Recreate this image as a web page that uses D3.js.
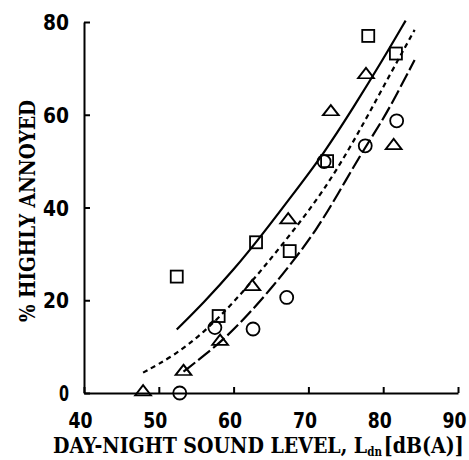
<!DOCTYPE html>
<html>
<head>
<meta charset="utf-8">
<script src="https://cdn.jsdelivr.net/npm/d3@7"></script>
<style>
    body { margin: 0; background: #fff; }
    .axis path, .axis line { stroke: #000; stroke-width: 2px; }
    .axis text { font-family: "DejaVu Sans Condensed", "DejaVu Sans", sans-serif; font-weight: bold; font-size: 21px; fill: #000; }
    .title { font-family: "DejaVu Serif Condensed", "DejaVu Serif", serif; font-weight: bold; font-size: 22px; fill: #000; }
</style>
</head>
<body>
<div id="chart-area"></div>
<script>
// Tick values
var xTicks = [40, 50, 60, 70, 80, 90];
var yTicks = [0, 20, 40, 60, 80];

// Observed points: [Ldn, % highly annoyed]
var squares = [[52.4, 25.1], [58, 16.6], [63, 32.5], [67.5, 30.6], [72.5, 50], [78, 77], [81.7, 73.2]];
var triangles = [[47.9, 0], [53.3, 4.4], [58.2, 10.9], [62.5, 22.7], [67.3, 37.1], [73, 60.4], [77.7, 68.4], [81.4, 53.1]];
var circles = [[52.8, 0], [57.5, 14.1], [62.6, 13.8], [67.1, 20.6], [72.1, 49.9], [77.6, 53.3], [81.8, 58.7]];

// Fitted curves
var curveSolid = [[52.4, 13.7], [56, 19.5], [60, 26.5], [64, 34.5], [68, 43], [72, 51.5], [76, 61.5], [80, 72], [83, 80.3]];
var curveDashed = [[47.9, 4.4], [52, 8], [56, 13], [60, 19.5], [64, 27], [68, 35], [72, 43.5], [76, 54], [80, 66], [84.2, 78.3]];
var curveLong = [[53.3, 4.6], [56, 8], [59, 12], [62, 17], [65, 22.5], [68, 28.5], [71, 35], [74, 43], [77, 51.5], [80, 59], [82, 65], [84.2, 71.8]];

var margin = { left: 84, right: 11, top: 22, bottom: 67 },
    width = 469 - margin.left - margin.right,
    height = 460 - margin.top - margin.bottom;

var svg = d3.select("#chart-area").append("svg")
    .attr("width", 469)
    .attr("height", 460);

var g = svg.append("g")
    .attr("transform", "translate(" + margin.left + ", " + margin.top + ")");

// Scales
var x = d3.scaleLinear().domain([40, 90]).range([0, width]);
var y = d3.scaleLinear().domain([0, 80]).range([height, 0]);

// Axes (ticks point inward)
var xAxis = g.append("g")
    .attr("class", "x axis")
    .attr("transform", "translate(0," + height + ")")
    .call(d3.axisBottom(x).tickValues(xTicks).tickSize(-6).tickSizeOuter(0).tickPadding(20));
xAxis.selectAll("text")
    .attr("dy", "0.71em")
    .attr("dx", -4)
    .attr("textLength", 24)
    .attr("lengthAdjust", "spacingAndGlyphs");

var yAxis = g.append("g")
    .attr("class", "y axis")
    .call(d3.axisLeft(y).tickValues(yTicks).tickSize(-6).tickSizeOuter(0).tickPadding(15));
yAxis.selectAll("text")
    .attr("dy", "0.36em")
    .each(function(d) {
        d3.select(this)
            .attr("textLength", d === 0 ? 10 : 26)
            .attr("lengthAdjust", "spacingAndGlyphs");
    });

// Curves
var line = d3.line()
    .x(function(d) { return x(d[0]); })
    .y(function(d) { return y(d[1]); })
    .curve(d3.curveBasis);

g.append("path").attr("d", line(curveSolid))
    .attr("fill", "none").attr("stroke", "#000").attr("stroke-width", 2.2);
g.append("path").attr("d", line(curveDashed))
    .attr("fill", "none").attr("stroke", "#000").attr("stroke-width", 2.2)
    .attr("stroke-dasharray", "5,4");
g.append("path").attr("d", line(curveLong))
    .attr("fill", "none").attr("stroke", "#000").attr("stroke-width", 2.2)
    .attr("stroke-dasharray", "15,4");

// Markers
g.selectAll(".sq").data(squares).enter().append("rect")
    .attr("class", "sq")
    .attr("x", function(d) { return x(d[0]) - 6; })
    .attr("y", function(d) { return y(d[1]) - 6; })
    .attr("width", 12).attr("height", 12)
    .attr("fill", "none").attr("stroke", "#000").attr("stroke-width", 1.8);

var tri = d3.symbol().type(d3.symbolTriangle).size(75);
g.selectAll(".tri").data(triangles).enter().append("path")
    .attr("class", "tri")
    .attr("d", tri)
    .attr("transform", function(d) { return "translate(" + x(d[0]) + "," + (y(d[1]) - 1) + ") scale(1.2,0.9)"; })
    .attr("fill", "none").attr("stroke", "#000").attr("stroke-width", 1.8);

g.selectAll(".ci").data(circles).enter().append("circle")
    .attr("class", "ci")
    .attr("cx", function(d) { return x(d[0]); })
    .attr("cy", function(d) { return y(d[1]); })
    .attr("r", 6.5)
    .attr("fill", "none").attr("stroke", "#000").attr("stroke-width", 1.8);

// X title: one text, squeezed horizontally to the reference width
var xtG = svg.append("g");
var xt = xtG.append("text")
    .attr("class", "title")
    .attr("x", 0).attr("y", 0);
xt.append("tspan").text("DAY-NIGHT SOUND LEVEL,  L");
xt.append("tspan").attr("font-size", 12).attr("dy", 3).text("dn");
xt.append("tspan").attr("dy", -3).attr("dx", 2).text("[dB(A)]");
var xtW = xt.node().getComputedTextLength();
xtG.attr("transform", "translate(53,453) scale(" + (409 / xtW) + ",1)");

svg.append("text")
    .attr("class", "title")
    .attr("transform", "translate(35,322) rotate(-90)")
    .attr("x", 0).attr("y", 0)
    .attr("textLength", 222)
    .attr("lengthAdjust", "spacingAndGlyphs")
    .text("% HIGHLY ANNOYED");
</script>
</body>
</html>
